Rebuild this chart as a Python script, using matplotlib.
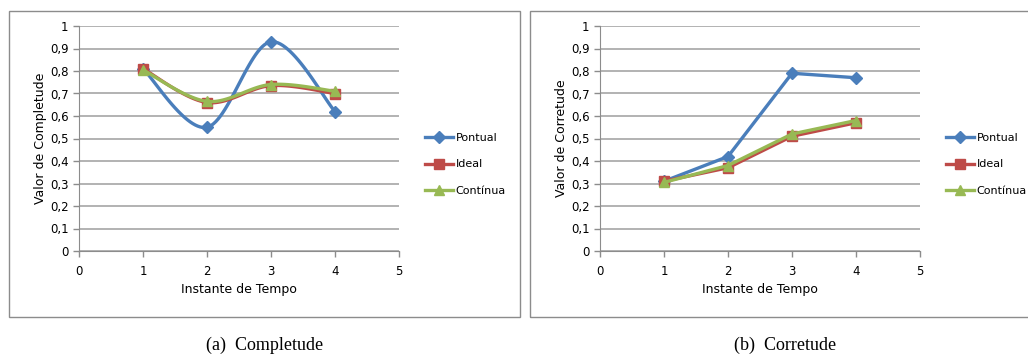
import numpy as np
import matplotlib.pyplot as plt
from matplotlib.patches import Rectangle
from matplotlib.ticker import FuncFormatter

instantes = [1, 2, 3, 4]

# Completude
comp_pontual = [0.81, 0.55, 0.93, 0.62]
comp_ideal = [0.81, 0.66, 0.735, 0.70]
comp_continua = [0.805, 0.665, 0.74, 0.71]

# Corretude
corr_pontual = [0.31, 0.42, 0.79, 0.77]
corr_ideal = [0.31, 0.37, 0.51, 0.57]
corr_continua = [0.305, 0.38, 0.52, 0.58]

series_names = ['Pontual', 'Ideal', 'Contínua']
cores = ['#4A7EBB', '#BE4B48', '#98B954']
marcadores = ['D', 's', '^']
tamanhos = [6, 7.5, 7.5]

W, H = 1028, 356


def suave(x, y, n=30):
    # curva suavizada estilo planilha (bezier com pontos de controle a 1/6)
    x = np.asarray(x, float)
    y = np.asarray(y, float)
    pts = np.column_stack([x, y])
    ext = np.vstack([pts[0], pts, pts[-1]])
    out = []
    for i in range(len(pts) - 1):
        p0, p1, p2, p3 = ext[i], ext[i + 1], ext[i + 2], ext[i + 3]
        c1 = p1 + (p2 - p0) / 6.0
        c2 = p2 - (p3 - p1) / 6.0
        t = np.linspace(0, 1, n)[:, None]
        seg = ((1 - t) ** 3) * p1 + 3 * ((1 - t) ** 2) * t * c1 + 3 * (1 - t) * t ** 2 * c2 + t ** 3 * p2
        out.append(seg if i == 0 else seg[1:])
    seg = np.vstack(out)
    return seg[:, 0], seg[:, 1]


def px_axes(fig, x0, y0, x1, y1):
    return fig.add_axes([x0 / W, 1 - y1 / H, (x1 - x0) / W, (y1 - y0) / H])


def painel(fig, left, ylabel, dados, smooth, caption, cap_x):
    ax = px_axes(fig, left, 26, left + 320, 251)
    for i, vals in enumerate(dados):
        if smooth:
            xs, ys = suave(instantes, vals)
        else:
            xs, ys = instantes, vals
        ax.plot(xs, ys, color=cores[i], lw=2.4, zorder=3 + i, solid_capstyle='round')
        ax.plot(instantes, vals, ls='none', marker=marcadores[i], ms=tamanhos[i],
                color=cores[i], zorder=3 + i)
    ax.set_xlim(0, 5)
    ax.set_ylim(0, 1)
    ax.set_xticks(range(6))
    ax.set_yticks(np.arange(0, 1.01, 0.1))
    ax.yaxis.set_major_formatter(FuncFormatter(
        lambda v, p: '0' if abs(v) < 1e-9 else ('1' if abs(v - 1) < 1e-9 else f'{v:.1f}'.replace('.', ','))))
    ax.grid(axis='y', color='#a6a6a6', lw=1.2)
    ax.set_axisbelow(True)
    for s in ['top', 'right']:
        ax.spines[s].set_visible(False)
    for s in ['left', 'bottom']:
        ax.spines[s].set_color('#8c8c8c')
    ax.tick_params(colors='#8c8c8c', labelcolor='black', labelsize=8.5, length=4, width=1)
    ax.tick_params(axis='x', pad=6)
    ax.set_xlabel('Instante de Tempo', fontsize=9, labelpad=4)
    ax.set_ylabel(ylabel, fontsize=9, labelpad=2)
    ax.set_facecolor('none')

    handles = [plt.Line2D([], [], color=cores[i], lw=2.4, marker=marcadores[i], ms=tamanhos[i])
               for i in range(3)]
    fig.legend(handles, series_names, loc='center left',
               bbox_to_anchor=((left + 346) / W, 1 - 164.5 / H), frameon=False,
               borderpad=0, borderaxespad=0,
               fontsize=8, handlelength=2.5, handletextpad=0.25, labelspacing=1.45)
    fig.text(cap_x / W, 1 - 345 / H, caption, ha='center', va='center',
             fontsize=13, family='Liberation Serif')


fig = plt.figure(figsize=(W / 100, H / 100), dpi=100)
fig.add_artist(Rectangle((9 / W, 1 - 317 / H), (520 - 9) / W, (317 - 11) / H,
                         transform=fig.transFigure, fill=False, ec='#8c8c8c', lw=1))
fig.add_artist(Rectangle((530 / W, 1 - 317 / H), (1040 - 530) / W, (317 - 11) / H,
                         transform=fig.transFigure, fill=False, ec='#8c8c8c', lw=1))

painel(fig, 79, 'Valor de Completude', [comp_pontual, comp_ideal, comp_continua],
       True, '(a)  Completude', 265)
painel(fig, 600, 'Valor de Corretude', [corr_pontual, corr_ideal, corr_continua],
       False, '(b)  Corretude', 785)

fig.savefig('out.png', dpi=100)
